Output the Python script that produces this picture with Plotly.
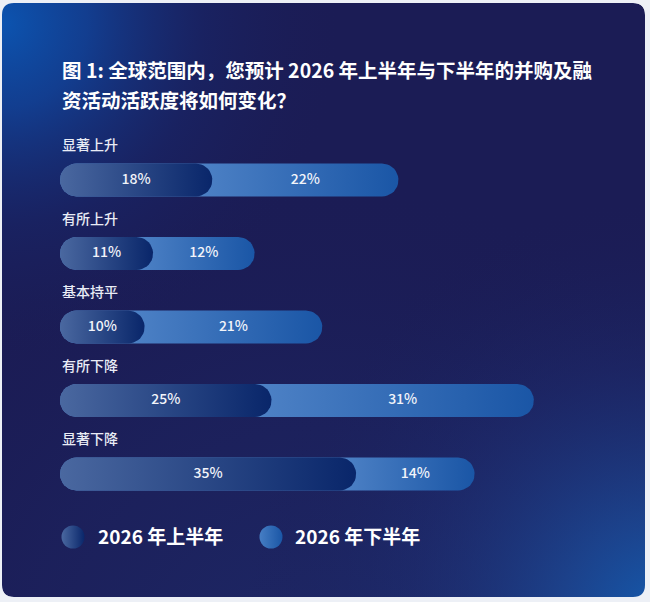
import numpy as np
import plotly.graph_objects as go

# survey answers (% of respondents)
categories = ["显著上升", "有所上升", "基本持平", "有所下降", "显著下降"]
first_half = [18, 11, 10, 25, 35]    # 2026 年上半年
second_half = [22, 12, 21, 31, 14]   # 2026 年下半年
series_names = ["2026 年上半年", "2026 年下半年"]
title_lines = ["图 1: 全球范围内，您预计 2026 年上半年与下半年的并购及融",
               "资活动活跃度将如何变化？"]

W, H = 650, 602
FONT = "Noto Sans CJK SC"

# card area in pixels
CX0, CY0, CX1, CY1, CR = 2, 3, 645, 597, 12

# bar area: x in percent, same pixel scale on y so the caps stay round
BX0, BX1, XMAX = 60, 610, 65
BY0, BY1 = 120, 500
K = (BX1 - BX0) / XMAX
YMAX = (BY1 - BY0) / K
row_y = [(180 - BY0 + i * 73.5) / K for i in range(len(categories))]
half_h = 16.5 / K

dark_l, dark_r = "rgb(74,104,160)", "rgb(9,38,106)"
light_l, light_r = "rgb(78,130,198)", "rgb(26,86,166)"


def pill(x0, x1, yc, h, n=20):
    a = np.linspace(-np.pi / 2, np.pi / 2, n)
    xr = (x1 - h) + h * np.cos(a)
    yr = yc + h * np.sin(a)
    xl = (x0 + h) - h * np.cos(a)
    yl = yc - h * np.sin(a)
    return list(xr) + list(xl) + [xr[0]], list(yr) + list(yl) + [yr[0]]


def circle(cx, cy, r, n=90):
    a = np.linspace(0, 2 * np.pi, n)
    return list(cx + r * np.cos(a)), list(cy + r * np.sin(a))


fig = go.Figure()

# background glows on the card axes (clipped to the card)
glows = [
    # slight lift of the whole lower half
    (325, 700, 520, [[0, "rgba(32,52,120,0.55)"], [0.6, "rgba(30,44,108,0.25)"],
                     [1, "rgba(27,29,86,0)"]]),
    (CX0, CY0 + 20, 340, [[0, "rgba(12,84,176,1)"], [0.25, "rgba(16,70,158,0.8)"],
                          [0.6, "rgba(22,44,118,0.35)"], [1, "rgba(27,29,86,0)"]]),
    (CX1 + 20, CY1 + 20, 420, [[0, "rgba(20,92,176,1)"], [0.25, "rgba(28,76,154,0.75)"],
                               [0.6, "rgba(30,52,124,0.35)"], [1, "rgba(27,29,86,0)"]]),
]
for cx, cy, r, cs in glows:
    gx, gy = circle(cx, cy, r)
    fig.add_trace(go.Scatter(
        x=gx, y=gy, mode="lines", fill="toself", line=dict(width=0),
        fillgradient=dict(type="radial", colorscale=cs),
        hoverinfo="skip", xaxis="x", yaxis="y"))

# bars: full pill for the total, first-half pill on top
for i, cat in enumerate(categories):
    v1, v2 = first_half[i], second_half[i]
    tot = v1 + v2
    px_, py_ = pill(0, tot, row_y[i], half_h)
    fig.add_trace(go.Scatter(
        x=px_, y=py_, mode="lines", fill="toself", line=dict(width=0),
        fillgradient=dict(type="horizontal", colorscale=[[0, light_l], [1, light_r]],
                          start=v1 - half_h, stop=tot),
        name=series_names[1], hoverinfo="skip", xaxis="x2", yaxis="y2"))
    px_, py_ = pill(0, v1, row_y[i], half_h)
    fig.add_trace(go.Scatter(
        x=px_, y=py_, mode="lines", fill="toself", line=dict(width=0),
        fillgradient=dict(type="horizontal", colorscale=[[0, dark_l], [1, dark_r]],
                          start=0, stop=v1),
        name=series_names[0], hoverinfo="skip", xaxis="x2", yaxis="y2"))

# value labels
fig.add_trace(go.Scatter(
    x=[v / 2 for v in first_half] + [a + b / 2 for a, b in zip(first_half, second_half)],
    y=row_y + row_y,
    text=[f"{v}%" for v in first_half] + [f"{v}%" for v in second_half],
    mode="text", textfont=dict(family=FONT, size=14, color="#f2f4fa", weight=500),
    hoverinfo="skip", xaxis="x2", yaxis="y2"))

# legend dots
fig.add_trace(go.Scatter(
    x=[73, 271], y=[537, 537], mode="markers",
    marker=dict(size=23, color=[dark_l, "rgb(70,126,196)"], line=dict(width=0),
                gradient=dict(type="horizontal", color=[dark_r, "rgb(26,86,166)"])),
    hoverinfo="skip", xaxis="x", yaxis="y"))

annotations = []
for i, line in enumerate(title_lines):
    annotations.append(dict(
        text=line, x=60 / W, y=1 - (70 + i * 30) / H, xref="paper", yref="paper",
        xanchor="left", yanchor="middle", showarrow=False,
        font=dict(family=FONT, size=19.5, color="white", weight=700)))
for i, cat in enumerate(categories):
    annotations.append(dict(
        text=cat, x=0, y=row_y[i] - 36 / K, xref="x2", yref="y2",
        xanchor="left", yanchor="middle", showarrow=False,
        font=dict(family=FONT, size=14, color="#e9ecf5", weight=500)))
for name, lx in zip(series_names, [96, 293]):
    annotations.append(dict(
        text=name, x=lx, y=535, xref="x", yref="y",
        xanchor="left", yanchor="middle", showarrow=False,
        font=dict(family=FONT, size=19, color="white", weight=700)))

card = (f"M {CX0 + CR},{CY0} L {CX1 - CR},{CY0} Q {CX1},{CY0} {CX1},{CY0 + CR} "
        f"L {CX1},{CY1 - CR} Q {CX1},{CY1} {CX1 - CR},{CY1} "
        f"L {CX0 + CR},{CY1} Q {CX0},{CY1} {CX0},{CY1 - CR} "
        f"L {CX0},{CY0 + CR} Q {CX0},{CY0} {CX0 + CR},{CY0} Z")
shapes = [dict(type="path", path=card, xref="x", yref="y", layer="below",
               fillcolor="#1b1c55", line=dict(width=0))]
# mask the square corners of the clipped glow
for (qx, qy, sx, sy) in [(CX0, CY0, 1, 1), (CX1, CY0, -1, 1),
                         (CX0, CY1, 1, -1), (CX1, CY1, -1, -1)]:
    shapes.append(dict(
        type="path", xref="x", yref="y", layer="above",
        path=f"M {qx},{qy} L {qx + sx * CR},{qy} Q {qx},{qy} {qx},{qy + sy * CR} Z",
        fillcolor="#edf0f6", line=dict(width=0)))

hidden = dict(visible=False, showgrid=False, zeroline=False, fixedrange=True)
fig.update_layout(
    width=W, height=H, margin=dict(l=0, r=0, t=0, b=0),
    paper_bgcolor="#edf0f6", plot_bgcolor="rgba(0,0,0,0)", showlegend=False,
    xaxis=dict(hidden, domain=[CX0 / W, CX1 / W], range=[CX0, CX1]),
    yaxis=dict(hidden, domain=[1 - CY1 / H, 1 - CY0 / H], range=[CY1, CY0]),
    xaxis2=dict(hidden, domain=[BX0 / W, BX1 / W], range=[0, XMAX], anchor="y2"),
    yaxis2=dict(hidden, domain=[1 - BY1 / H, 1 - BY0 / H], range=[YMAX, 0], anchor="x2"),
    annotations=annotations, shapes=shapes,
)

# page body margin would shift the card off the window
fig.write_html("out.html", post_script="document.body.style.margin = '0';",
               config={"displayModeBar": False})
